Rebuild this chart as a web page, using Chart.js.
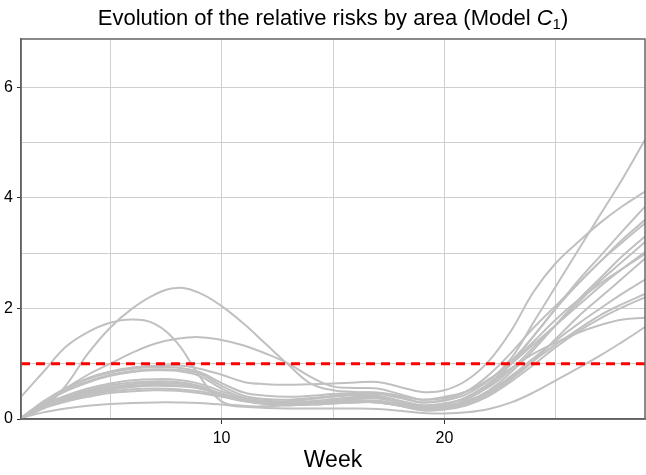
<!DOCTYPE html>
<html>
<head>
<meta charset="utf-8">
<script src="https://cdn.jsdelivr.net/npm/chart.js@4/dist/chart.umd.min.js"></script>
<style>
html, body { margin: 0; padding: 0; background: #fff; }
</style>
</head>
<body>
<canvas id="riesgos" width="646" height="475"></canvas>
<script>
// weeks and relative risk per area
var weeks = [1,2,3,4,5,6,7,8,9,10,11,12,13,14,15,16,17,18,19,20,21,22,23,24,25,26,27,28,29];

var area01 = [0.40,0.85,1.30,1.57,1.74,1.80,1.72,1.38,0.78,0.32,0.24,0.23,0.25,0.28,0.32,0.34,0.33,0.27,0.20,0.22,0.32,0.50,0.78,1.10,1.42,1.72,2.00,2.27,2.52];
var area02 = [0.02,0.20,0.60,1.18,1.65,2.00,2.25,2.37,2.28,2.04,1.72,1.35,0.98,0.64,0.52,0.49,0.47,0.40,0.30,0.35,0.50,0.80,1.20,1.65,2.05,2.45,2.85,3.20,3.54];
var area03 = [0.02,0.25,0.55,0.80,1.00,1.20,1.36,1.45,1.48,1.43,1.33,1.18,1.00,0.76,0.59,0.56,0.55,0.45,0.35,0.38,0.50,0.72,1.00,1.35,1.70,2.05,2.40,2.72,3.02];
var area04 = [0.02,0.32,0.56,0.74,0.86,0.93,0.96,0.97,0.91,0.80,0.67,0.63,0.62,0.63,0.64,0.66,0.67,0.58,0.49,0.52,0.70,1.05,1.60,2.30,2.82,3.20,3.55,3.85,4.11];
var area05 = [0.02,0.30,0.54,0.72,0.84,0.91,0.94,0.93,0.85,0.65,0.48,0.42,0.40,0.42,0.45,0.47,0.48,0.42,0.35,0.40,0.50,0.70,1.10,1.75,2.40,3.05,3.70,4.35,5.05];
var area06 = [0.02,0.30,0.52,0.68,0.80,0.87,0.90,0.89,0.82,0.60,0.42,0.36,0.35,0.38,0.42,0.45,0.45,0.38,0.30,0.33,0.45,0.70,1.05,1.50,2.00,2.50,2.95,3.40,3.84];
var area07 = [0.02,0.28,0.50,0.66,0.78,0.85,0.88,0.87,0.78,0.55,0.38,0.33,0.32,0.36,0.40,0.43,0.42,0.33,0.25,0.28,0.38,0.58,0.90,1.30,1.70,2.10,2.50,2.85,3.20];
var area08 = [0.02,0.25,0.42,0.55,0.64,0.70,0.72,0.71,0.64,0.50,0.38,0.32,0.30,0.32,0.36,0.40,0.40,0.32,0.24,0.26,0.40,0.65,1.00,1.40,1.80,2.15,2.45,2.72,2.98];
var area09 = [0.02,0.24,0.40,0.52,0.61,0.66,0.68,0.67,0.60,0.45,0.34,0.30,0.29,0.31,0.35,0.38,0.38,0.30,0.22,0.24,0.32,0.52,0.85,1.25,1.70,2.15,2.55,2.95,3.30];
var area10 = [0.02,0.23,0.38,0.50,0.58,0.63,0.65,0.64,0.58,0.46,0.36,0.30,0.27,0.28,0.30,0.32,0.32,0.26,0.18,0.20,0.30,0.48,0.75,1.05,1.35,1.62,1.88,2.08,2.26];
var area11 = [0.02,0.22,0.36,0.47,0.55,0.60,0.62,0.61,0.56,0.45,0.34,0.28,0.26,0.28,0.32,0.36,0.37,0.30,0.20,0.22,0.35,0.60,1.00,1.50,2.00,2.45,2.85,3.25,3.60];
var area12 = [0.02,0.21,0.35,0.46,0.53,0.58,0.60,0.59,0.55,0.44,0.33,0.27,0.25,0.26,0.28,0.30,0.30,0.24,0.16,0.17,0.25,0.42,0.68,0.98,1.30,1.58,1.82,2.02,2.20];
var area13 = [0.02,0.20,0.33,0.43,0.50,0.54,0.55,0.54,0.50,0.42,0.33,0.28,0.26,0.27,0.29,0.31,0.30,0.24,0.16,0.18,0.35,0.62,0.92,1.18,1.38,1.56,1.70,1.80,1.83];
var area14 = [0.02,0.19,0.31,0.40,0.47,0.50,0.52,0.51,0.47,0.40,0.32,0.27,0.25,0.26,0.28,0.30,0.30,0.24,0.17,0.19,0.28,0.45,0.72,1.05,1.45,1.85,2.20,2.55,2.90];
var area15 = [0.02,0.12,0.19,0.24,0.27,0.29,0.30,0.30,0.29,0.26,0.22,0.20,0.19,0.19,0.19,0.19,0.18,0.15,0.11,0.10,0.12,0.18,0.30,0.48,0.70,0.92,1.15,1.40,1.66];

var threshold = 1;

// axis ticks
var xTicks = [5, 10, 15, 20, 25];
var xLabels = [10, 20];
var yTicks = [0, 1, 2, 3, 4, 5, 6];
var yLabels = [0, 2, 4, 6];

var areas = [area01, area02, area03, area04, area05, area06, area07, area08,
             area09, area10, area11, area12, area13, area14, area15];

var fuente = '"Liberation Sans", Arial, Helvetica, sans-serif';

var datasets = [{
    label: 'RR = 1',
    data: [{x: weeks[0], y: threshold}, {x: weeks[weeks.length - 1], y: threshold}],
    borderColor: '#ff0000',
    borderWidth: 3,
    borderDash: [9, 6],
    pointRadius: 0,
    order: 0
}];
areas.forEach(function(serie, i) {
    datasets.push({
        label: 'Area ' + (i + 1),
        data: weeks.map(function(w, j) { return {x: w, y: serie[j]}; }),
        borderColor: 'rgb(192,192,192)',
        borderWidth: 2,
        pointRadius: 0,
        tension: 0.4,
        order: 1
    });
});

// title with italic C and subscript 1
var tituloPlugin = {
    id: 'tituloModelo',
    afterDraw: function(chart) {
        var ctx = chart.ctx, a = chart.chartArea;
        var partes = [
            {t: 'Evolution of the relative risks by area (Model ', f: '22px ' + fuente, dy: 0},
            {t: 'C', f: 'italic 22px ' + fuente, dy: 0},
            {t: '1', f: '15px ' + fuente, dy: 4},
            {t: ')', f: '22px ' + fuente, dy: 0}
        ];
        ctx.save();
        var total = 0;
        partes.forEach(function(p) { ctx.font = p.f; p.w = ctx.measureText(p.t).width; total += p.w; });
        var x = (a.left + a.right) / 2 - total / 2;
        var y = 25;
        ctx.fillStyle = '#000';
        ctx.textBaseline = 'alphabetic';
        partes.forEach(function(p) {
            ctx.font = p.f;
            ctx.fillText(p.t, x, y + p.dy);
            x += p.w;
        });
        ctx.restore();
    }
};

// box around the plot
var marcoPlugin = {
    id: 'marco',
    afterDraw: function(chart) {
        var ctx = chart.ctx, a = chart.chartArea;
        ctx.save();
        ctx.strokeStyle = '#666';
        ctx.lineWidth = 1.5;
        ctx.strokeRect(a.left, a.top, a.right - a.left, a.bottom - a.top);
        ctx.restore();
    }
};

var config = {
    type: 'line',
    data: { datasets: datasets },
    options: {
        responsive: false,
        animation: false,
        layout: { padding: { top: 39, right: 1, left: 0, bottom: 0 } },
        plugins: {
            legend: { display: false },
            title: { display: false },
            tooltip: { enabled: false }
        },
        scales: {
            x: {
                type: 'linear',
                min: 1,
                max: 29,
                afterBuildTicks: function(s) { s.ticks = xTicks.map(function(v) { return {value: v}; }); },
                afterFit: function(s) { s.height = 56; },
                grid: {
                    color: '#cfcfcf',
                    lineWidth: 1,
                    tickLength: 5,
                    tickColor: function(c) { return xLabels.indexOf(c.tick.value) >= 0 ? '#333' : 'rgba(0,0,0,0)'; }
                },
                border: { color: '#555', width: 1.5 },
                ticks: {
                    autoSkip: false,
                    maxRotation: 0,
                    padding: 5,
                    color: '#000',
                    font: { family: fuente, size: 16 },
                    callback: function(v) { return xLabels.indexOf(v) >= 0 ? String(v) : ''; }
                },
                title: {
                    display: true,
                    text: 'Week',
                    color: '#000',
                    font: { family: fuente, size: 23 },
                    padding: { top: 0, bottom: 1 }
                }
            },
            y: {
                type: 'linear',
                min: 0,
                max: 6.87,
                afterBuildTicks: function(s) { s.ticks = yTicks.map(function(v) { return {value: v}; }); },
                afterFit: function(s) { s.width = 21; },
                grid: {
                    color: '#cfcfcf',
                    lineWidth: 1,
                    tickLength: 4,
                    tickColor: function(c) { return yLabels.indexOf(c.tick.value) >= 0 ? '#333' : 'rgba(0,0,0,0)'; }
                },
                border: { color: '#555', width: 1.5 },
                ticks: {
                    padding: 4,
                    color: '#000',
                    font: { family: fuente, size: 16 },
                    callback: function(v) { return yLabels.indexOf(v) >= 0 ? String(v) : ''; }
                }
            }
        }
    },
    plugins: [tituloPlugin, marcoPlugin]
};

window.miGrafico = new Chart(document.getElementById('riesgos'), config);
</script>
</body>
</html>
